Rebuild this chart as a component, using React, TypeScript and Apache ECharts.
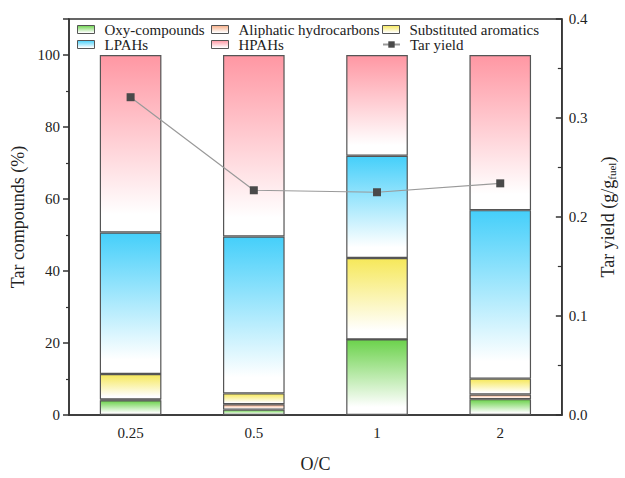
import React, { useEffect, useRef } from "react";
import * as echarts from "echarts";

const categories = ["0.25", "0.5", "1", "2"];
const oxyCompounds = [4.1, 1.5, 21.0, 4.4];
const aliphatic = [0.2, 1.5, 0, 1.3];
const substituted = [7.1, 3.0, 22.6, 4.4];
const lpahs = [39.3, 43.6, 28.4, 46.8];
const hpahs = [49.3, 50.4, 28.0, 43.1];
const tarYield = [0.321, 0.227, 0.225, 0.234];

const FONT = "Liberation Serif";

function grad(c: string) {
  return new echarts.graphic.LinearGradient(0, 0, 0, 1, [
    { offset: 0, color: c },
    { offset: 0.9, color: "#ffffff" },
    { offset: 1, color: "#ffffff" },
  ]);
}

export default function App() {
  const ref = useRef<HTMLDivElement>(null);
  useEffect(() => {
    if (!ref.current) return;
    const chart = echarts.init(ref.current, undefined, { renderer: "svg" });
    const barStyle = (c: string) => ({
      color: grad(c),
      borderColor: "#555",
      borderWidth: 1.2,
    });
    const bar = (name: string, data: number[], c: string) => ({
      name,
      type: "bar",
      stack: "tar",
      data,
      barWidth: "50%",
      itemStyle: barStyle(c),
      emphasis: { disabled: true },
    });
    const legendCommon = {
      itemWidth: 17,
      itemHeight: 8,
      textStyle: { fontFamily: FONT, fontSize: 15, color: "#222", padding: [0, 0, 0, 5] },
      padding: 0,
      orient: "horizontal",
    };
    const barLegend = {
      ...legendCommon,
      icon: "rect",
      itemStyle: { borderColor: "#555", borderWidth: 1 },
    };
    const axisLine = { show: true, lineStyle: { color: "#333", width: 1.5 } };
    chart.setOption({
      animation: false,
      textStyle: { fontFamily: FONT },
      grid: {
        left: 69,
        right: 54,
        top: 19,
        bottom: 55,
        show: true,
        borderColor: "#333",
        borderWidth: 1.5,
      },
      legend: [
        { ...barLegend, data: ["Oxy-compounds"], left: 77, top: 22 },
        { ...barLegend, data: ["LPAHs"], left: 77, top: 37 },
        { ...barLegend, data: ["Aliphatic hydrocarbons"], left: 211, top: 22 },
        { ...barLegend, data: ["HPAHs"], left: 211, top: 37 },
        { ...barLegend, data: ["Substituted aromatics"], left: 382, top: 22 },
        { ...legendCommon, data: ["Tar yield"], left: 382, top: 37 },
      ],
      xAxis: [
        {
          type: "category",
          data: categories,
          position: "bottom",
          name: "O/C",
          nameLocation: "middle",
          nameGap: 40,
          nameTextStyle: { fontFamily: FONT, fontSize: 18, color: "#222" },
          axisLine,
          axisTick: { alignWithLabel: true, length: 7, lineStyle: { color: "#333", width: 1.5 } },
          axisLabel: { fontFamily: FONT, fontSize: 15, color: "#222", margin: 10 },
        },
        {
          type: "category",
          data: categories,
          position: "bottom",
          axisLine: { show: false },
          axisTick: { length: 4, lineStyle: { color: "#333", width: 1.5 } },
          axisLabel: { show: false },
        },
      ],
      yAxis: [
        {
          type: "value",
          min: 0,
          max: 110,
          interval: 20,
          name: "Tar compounds (%)",
          nameLocation: "middle",
          nameGap: 40,
          nameTextStyle: { fontFamily: FONT, fontSize: 18, color: "#222" },
          axisLine,
          axisTick: { show: true, length: 6, lineStyle: { color: "#333", width: 1.5 } },
          minorTick: { show: true, splitNumber: 2, length: 3, lineStyle: { color: "#333", width: 1.2 } },
          splitLine: { show: false },
          axisLabel: {
            fontFamily: FONT,
            fontSize: 15,
            color: "#222",
            margin: 9,
            formatter: (v: number) => (v > 100 ? "" : String(v)),
          },
        },
        {
          type: "value",
          min: 0,
          max: 0.4,
          interval: 0.1,
          position: "right",
          name: "Tar yield (g/g{sub|fuel})",
          nameLocation: "middle",
          nameRotate: 90,
          nameGap: 36,
          nameTextStyle: {
            fontFamily: FONT,
            fontSize: 18,
            color: "#222",
            rich: {
              sub: { fontFamily: FONT, fontSize: 11, color: "#222", verticalAlign: "bottom", padding: [8, 0, 0, 0] },
            },
          },
          axisLine,
          axisTick: { show: true, inside: true, length: 6, lineStyle: { color: "#333", width: 1.5 } },
          minorTick: { show: true, splitNumber: 2, length: 4, lineStyle: { color: "#333", width: 1.2 } },
          splitLine: { show: false },
          axisLabel: {
            fontFamily: FONT,
            fontSize: 15,
            color: "#222",
            margin: 7,
            formatter: (v: number) => (v === 0 ? "0.0" : v.toFixed(1)),
          },
        },
      ],
      series: [
        bar("Oxy-compounds", oxyCompounds, "#6cd24c"),
        bar("Aliphatic hydrocarbons", aliphatic, "#f7ad86"),
        bar("Substituted aromatics", substituted, "#f6e85a"),
        bar("LPAHs", lpahs, "#45cffa"),
        bar("HPAHs", hpahs, "#ff97a3"),
        {
          name: "Tar yield",
          type: "line",
          yAxisIndex: 1,
          data: tarYield,
          symbol: "rect",
          symbolSize: 8,
          itemStyle: { color: "#4a4a4a" },
          lineStyle: { color: "#9a9a9a", width: 1.2 },
          emphasis: { disabled: true },
          z: 5,
        },
      ],
    });
    return () => chart.dispose();
  }, []);
  return (
    <div
      ref={ref}
      style={{ position: "absolute", left: 0, top: 0, width: 625, height: 478, overflow: "hidden" }}
    />
  );
}
